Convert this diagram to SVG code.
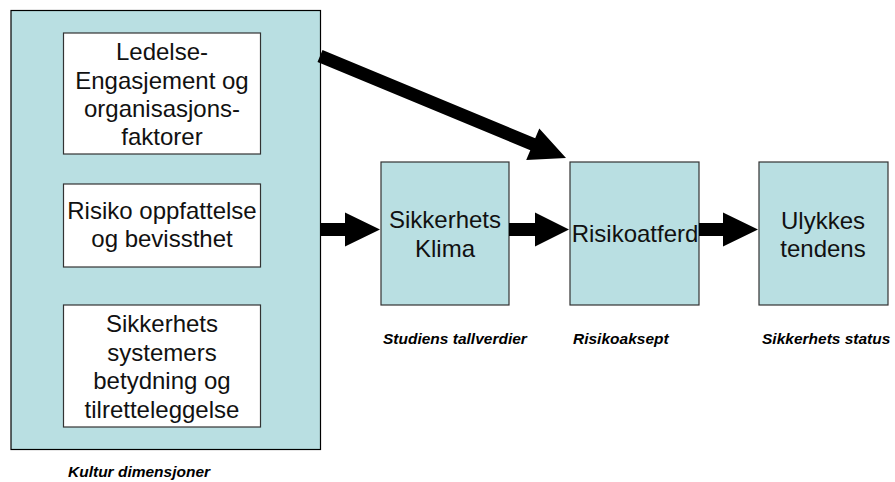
<svg xmlns="http://www.w3.org/2000/svg" width="895" height="482" viewBox="0 0 895 482">
<style>
.blue{fill:#B9DFE2;stroke:#333;stroke-width:1.2}
.white{fill:#fff;stroke:#333;stroke-width:1.2}
.t{font-family:"Liberation Sans",Arial,sans-serif;font-size:24px;fill:#111;text-anchor:middle}
.lbl{font-family:"Liberation Sans",Arial,sans-serif;font-size:15.5px;font-weight:bold;font-style:italic;fill:#000}
.arr{fill:#000}
</style>
<rect width="895" height="482" fill="#fff"/>
<g id="kultur">
<rect class="blue" x="11" y="10.5" width="309.5" height="439" style="stroke:#000"/>
<text class="lbl" x="68" y="477">Kultur dimensjoner</text>
</g>
<g id="ledelse">
<rect class="white" x="63.5" y="33" width="197" height="121"/>
<text class="t" x="162" y="60">Ledelse-</text>
<text class="t" x="162" y="89">Engasjement og</text>
<text class="t" x="162" y="117">organisasjons-</text>
<text class="t" x="162" y="145">faktorer</text>
</g>
<g id="risiko">
<rect class="white" x="63.5" y="184" width="197" height="83"/>
<text class="t" x="162" y="219">Risiko oppfattelse</text>
<text class="t" x="162" y="247">og bevissthet</text>
</g>
<g id="systemer">
<rect class="white" x="63.5" y="305" width="197" height="122"/>
<text class="t" x="162" y="332">Sikkerhets</text>
<text class="t" x="162" y="361">systemers</text>
<text class="t" x="162" y="389">betydning og</text>
<text class="t" x="162" y="418">tilretteleggelse</text>
</g>
<g id="klima">
<rect class="blue" x="381" y="162" width="128" height="143"/>
<text class="t" x="445" y="228">Sikkerhets</text>
<text class="t" x="445" y="257">Klima</text>
<text class="lbl" x="383" y="344">Studiens tallverdier</text>
</g>
<g id="risikoatferd">
<rect class="blue" x="570" y="162" width="129" height="143"/>
<text class="t" x="635" y="242">Risikoatferd</text>
<text class="lbl" x="573" y="344">Risikoaksept</text>
</g>
<g id="ulykkes">
<rect class="blue" x="759" y="162" width="129" height="143"/>
<text class="t" x="823" y="229">Ulykkes</text>
<text class="t" x="823" y="257">tendens</text>
<text class="lbl" x="762" y="344">Sikkerhets status</text>
</g>
<g id="connectors">
<polygon class="arr" points="322.5,50 535.2,138.2 539.3,128.5 566,158 526.2,159.9 530.3,150.2 317.5,62"/>
<polygon class="arr" points="320,223 345,223 345,212.5 380,229.5 345,246.5 345,236 320,236"/>
<polygon class="arr" points="509,223 535,223 535,212.5 569,229.5 535,246.5 535,236 509,236"/>
<polygon class="arr" points="699,223 723,223 723,212.5 758,229.5 723,246.5 723,236 699,236"/>
</g>
</svg>
